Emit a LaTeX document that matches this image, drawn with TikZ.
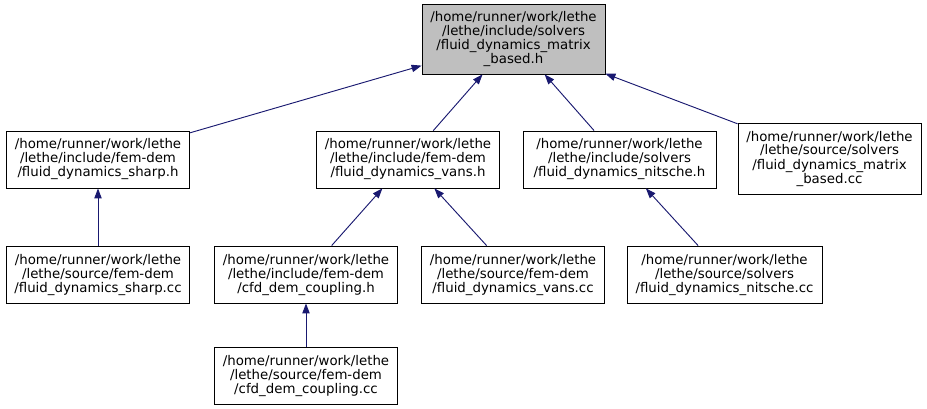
\documentclass[tikz,border=0pt]{standalone}
\usepackage{fontspec}
\setmainfont{DejaVu Sans}
\usetikzlibrary{arrows.meta}
\definecolor{edgeblue}{RGB}{25,25,112}
\definecolor{curgray}{RGB}{191,191,191}

\begin{document}
\begin{tikzpicture}[x=0.75pt,y=-0.75pt,>={Triangle[length=7.5pt,width=5.5pt]},
 n/.style={draw,line width=0.6pt,inner sep=0pt,minimum width=137.25pt,minimum height=42.75pt,align=center,font=\fontsize{10}{10.5}\selectfont},
 a/.style={->,draw=edgeblue,line width=0.7pt}]
\useasboundingbox (0,0) rectangle (927,408);
\node[n,fill=curgray,minimum height=52.5pt] (top) at (513.5,39) {/home/runner/work/lethe\\/lethe/include/solvers\\/fluid\_dynamics\_matrix\\\_based.h};
\node[n] (sharp) at (98,159.5) {/home/runner/work/lethe\\/lethe/include/fem-dem\\/fluid\_dynamics\_sharp.h};
\node[n] (vans) at (408,159.5) {/home/runner/work/lethe\\/lethe/include/fem-dem\\/fluid\_dynamics\_vans.h};
\node[n,minimum width=144.75pt] (nitsche) at (619.5,159.5) {/home/runner/work/lethe\\/lethe/include/solvers\\/fluid\_dynamics\_nitsche.h};
\node[n,minimum height=53.25pt] (mbcc) at (829.5,158.5) {/home/runner/work/lethe\\/lethe/source/solvers\\/fluid\_dynamics\_matrix\\\_based.cc};
\node[n] (sharpcc) at (98,274.5) {/home/runner/work/lethe\\/lethe/source/fem-dem\\/fluid\_dynamics\_sharp.cc};
\node[n] (coupling) at (306,274.5) {/home/runner/work/lethe\\/lethe/include/fem-dem\\/cfd\_dem\_coupling.h};
\node[n] (vanscc) at (513,274.5) {/home/runner/work/lethe\\/lethe/source/fem-dem\\/fluid\_dynamics\_vans.cc};
\node[n,minimum width=146.25pt] (nitschecc) at (724.5,274.5) {/home/runner/work/lethe\\/lethe/source/solvers\\/fluid\_dynamics\_nitsche.cc};
\node[n] (couplingcc) at (306,375.5) {/home/runner/work/lethe\\/lethe/source/fem-dem\\/cfd\_dem\_coupling.cc};
\draw[a] (sharp)--(top); \draw[a] (vans)--(top); \draw[a] (nitsche)--(top); \draw[a] (mbcc)--(top);
\draw[a] (sharpcc)--(sharp); \draw[a] (coupling)--(vans); \draw[a] (vanscc)--(vans);
\draw[a] (nitschecc)--(nitsche); \draw[a] (couplingcc)--(coupling);
\end{tikzpicture}
\end{document}
